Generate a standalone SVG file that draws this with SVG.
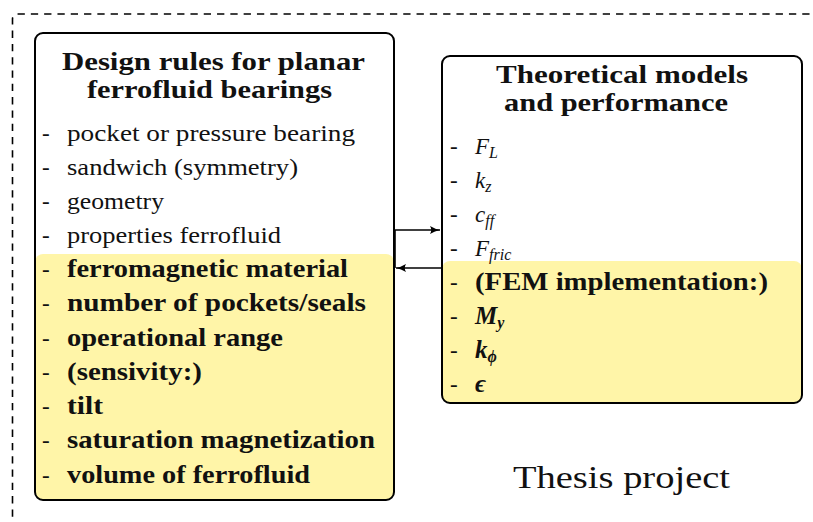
<svg xmlns="http://www.w3.org/2000/svg" width="813" height="522" viewBox="0 0 813 522">
<style>
text{font-family:'Liberation Serif','Times New Roman',serif;fill:#111}
.box{fill:none;stroke:#000;stroke-width:2}
.hl{fill:#FFF5A8;stroke:none}
.t{font-size:23px}
.b{font-weight:bold;font-size:25px}
.ttl{font-size:25px;font-weight:bold}
.m{font-style:italic}
.sub{font-size:16px}
.dash{font-size:23px}
.conn{stroke:#000;stroke-width:1.6;fill:none;marker-end:url(#arr)}
</style>
<defs>
<marker id="arr" markerUnits="userSpaceOnUse" markerWidth="12" markerHeight="10" refX="10" refY="5" orient="auto">
<path d="M0,1 Q5,4 10,5 Q5,6 0,9 Q2.5,5 0,1 Z" fill="#000"/>
</marker>
</defs>
<rect width="813" height="522" fill="#fff"/>
<g id="frame">
<path d="M12.5,530 V19 A5,5 0 0 1 17.5,14 H820" fill="none" stroke="#000" stroke-width="1.6" stroke-dasharray="7.3 6"/>
</g>
<g id="design-rules">
<rect class="hl" x="35" y="254" width="359" height="246" rx="8"/>
<rect class="box" x="35" y="33" width="359" height="467" rx="8"/>
<text class="ttl" x="62" y="70" textLength="303" lengthAdjust="spacingAndGlyphs">Design rules for planar</text>
<text class="ttl" x="87" y="98" textLength="245" lengthAdjust="spacingAndGlyphs">ferrofluid bearings</text>
<g class="dash">
<text x="42" y="141">-</text><text x="42" y="175">-</text><text x="42" y="209">-</text><text x="42" y="243">-</text>
<text x="42" y="277">-</text><text x="42" y="311">-</text><text x="42" y="346">-</text><text x="42" y="380">-</text>
<text x="42" y="414">-</text><text x="42" y="448">-</text><text x="42" y="483">-</text>
</g>
<text class="t" x="67" y="141" textLength="288" lengthAdjust="spacingAndGlyphs">pocket or pressure bearing</text>
<text class="t" x="67" y="175" textLength="231" lengthAdjust="spacingAndGlyphs">sandwich (symmetry)</text>
<text class="t" x="67" y="209" textLength="97" lengthAdjust="spacingAndGlyphs">geometry</text>
<text class="t" x="67" y="243" textLength="214" lengthAdjust="spacingAndGlyphs">properties ferrofluid</text>
<text class="t b" x="67" y="277" textLength="281" lengthAdjust="spacingAndGlyphs">ferromagnetic material</text>
<text class="t b" x="67" y="311" textLength="299" lengthAdjust="spacingAndGlyphs">number of pockets/seals</text>
<text class="t b" x="67" y="346" textLength="216" lengthAdjust="spacingAndGlyphs">operational range</text>
<text class="t b" x="67" y="380" textLength="135" lengthAdjust="spacingAndGlyphs">(sensivity:)</text>
<text class="t b" x="67" y="414" textLength="36" lengthAdjust="spacingAndGlyphs">tilt</text>
<text class="t b" x="67" y="448" textLength="308" lengthAdjust="spacingAndGlyphs">saturation magnetization</text>
<text class="t b" x="67" y="483" textLength="243" lengthAdjust="spacingAndGlyphs">volume of ferrofluid</text>
</g>
<g id="theoretical-models">
<rect class="hl" x="442" y="261" width="360" height="142" rx="8"/>
<rect class="box" x="442" y="56" width="360" height="347" rx="8"/>
<text class="ttl" x="496" y="83" textLength="252" lengthAdjust="spacingAndGlyphs">Theoretical models</text>
<text class="ttl" x="504" y="111" textLength="224" lengthAdjust="spacingAndGlyphs">and performance</text>
<g class="dash">
<text x="450" y="154">-</text><text x="450" y="188">-</text><text x="450" y="222">-</text><text x="450" y="256">-</text>
<text x="450" y="290">-</text><text x="450" y="324">-</text><text x="450" y="358">-</text><text x="450" y="392">-</text>
</g>
<text class="t" x="475" y="154"><tspan class="m">F</tspan><tspan class="m sub" dy="4">L</tspan></text>
<text class="t" x="475" y="188"><tspan class="m">k</tspan><tspan class="m sub" dy="4">z</tspan></text>
<text class="t" x="475" y="222"><tspan class="m">c</tspan><tspan class="m sub" dy="4">ff</tspan></text>
<text class="t" x="475" y="256"><tspan class="m">F</tspan><tspan class="m sub" dy="4">fric</tspan></text>
<text class="t b" x="475" y="290" textLength="293" lengthAdjust="spacingAndGlyphs">(FEM implementation:)</text>
<text class="t b" x="475" y="324"><tspan class="m">M</tspan><tspan class="m sub" dy="4">y</tspan></text>
<text class="t b" x="475" y="358"><tspan class="m">k</tspan><tspan class="m sub" dy="4">ϕ</tspan></text>
<text class="t b" x="475" y="392"><tspan class="m">ϵ</tspan></text>
</g>
<g id="thesis-label">
<text x="513" y="488" font-size="32" textLength="217" lengthAdjust="spacingAndGlyphs">Thesis project</text>
</g>
<g id="connectors">
<path class="conn" d="M395,230 H440"/>
<path class="conn" d="M441,268 H396"/>
<path d="M395,230 V268" stroke="#000" stroke-width="1.6" fill="none"/>
</g>
</svg>
